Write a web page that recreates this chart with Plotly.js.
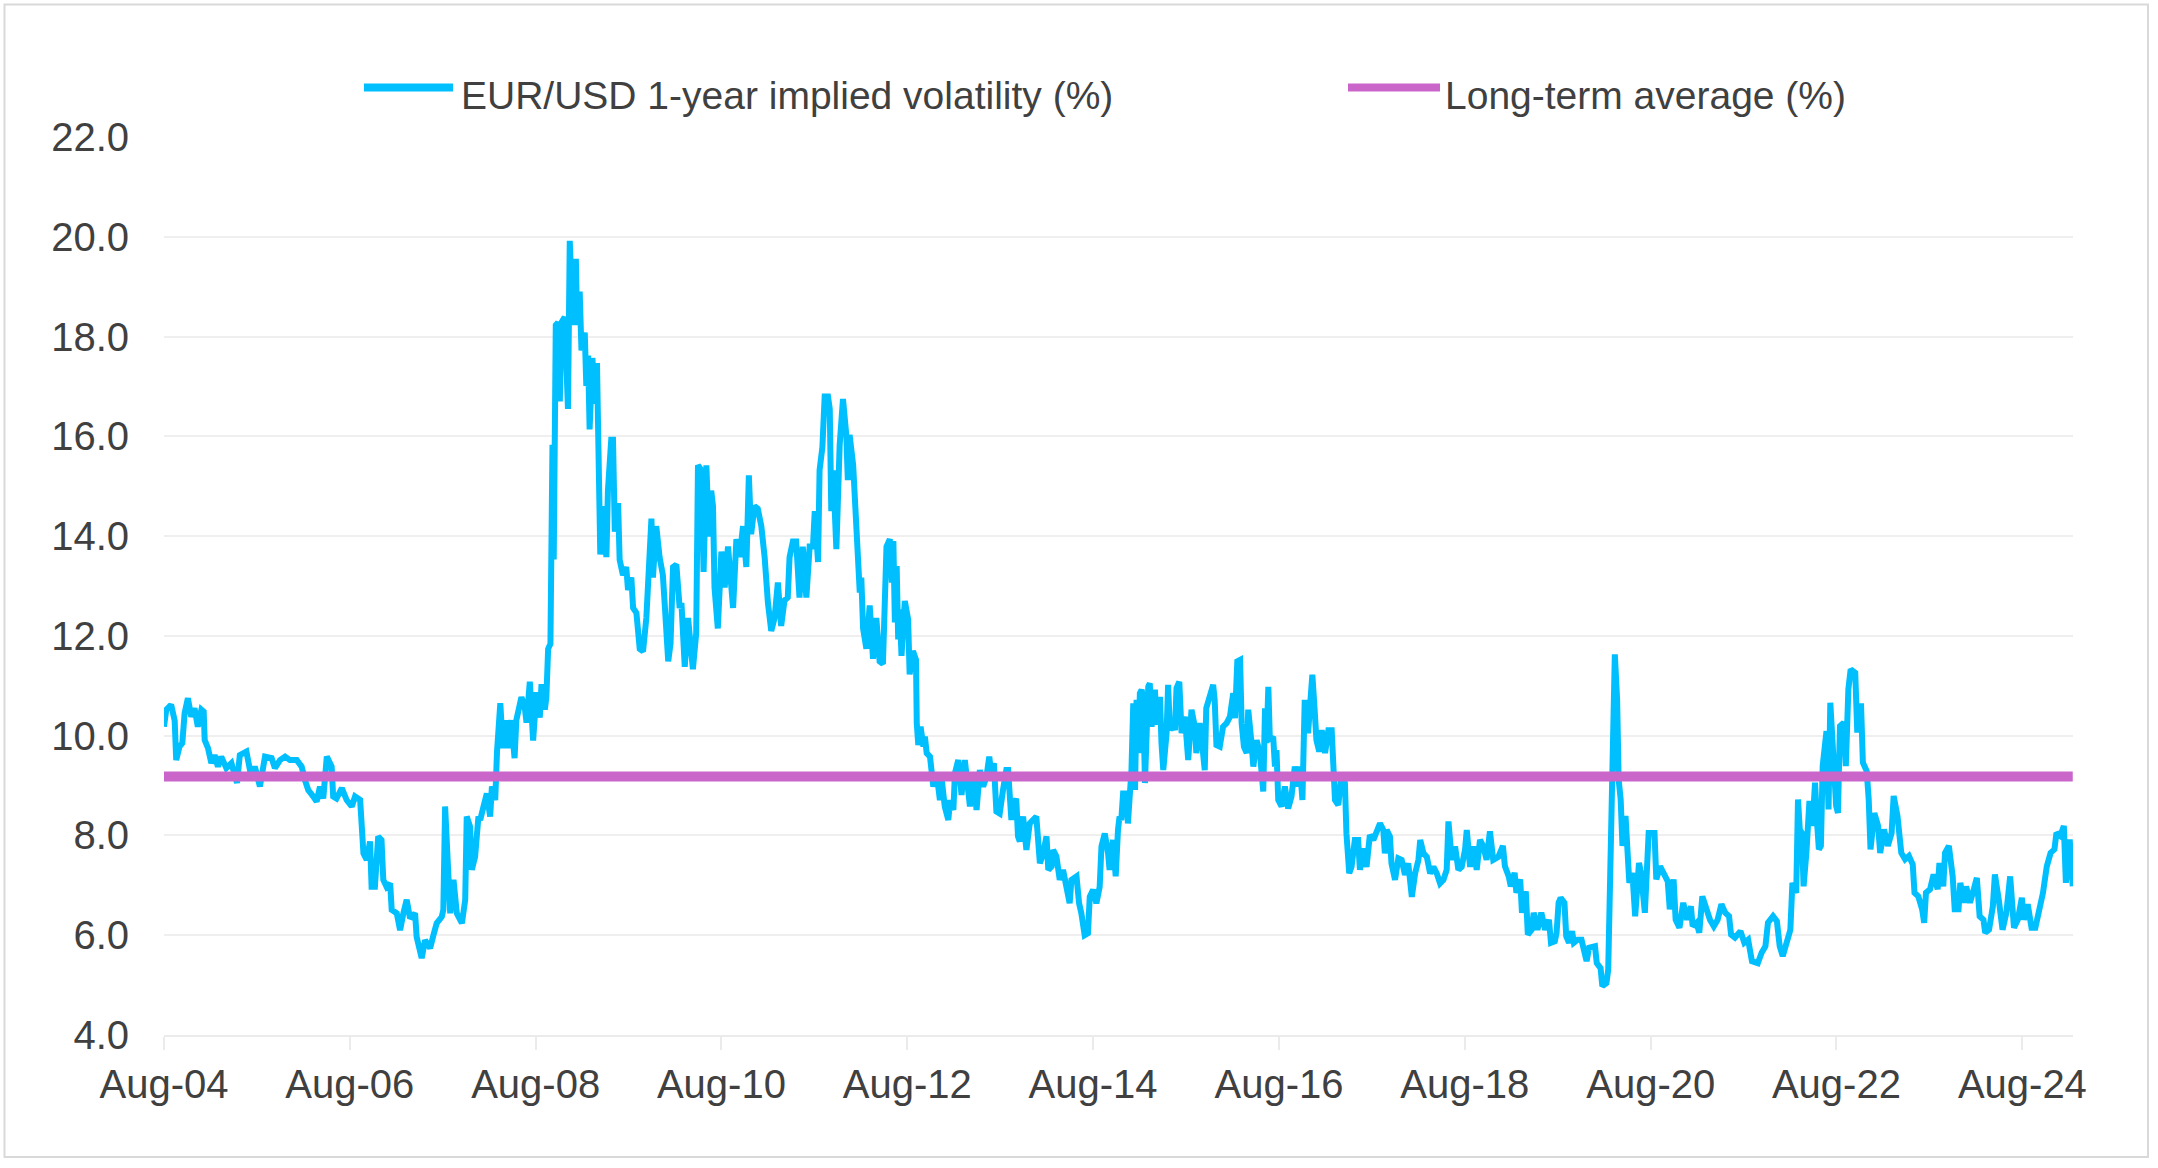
<!DOCTYPE html>
<html>
<head>
<meta charset="utf-8">
<script src="https://cdn.plot.ly/plotly-3.0.1.min.js"></script>
<style>
  html, body { margin: 0; padding: 0; background: #ffffff; }
  #chart { width: 2158px; height: 1168px; }
</style>
</head>
<body>
<div id="chart"></div>
<script>
// ---- Data ----
const seriesName = "EUR/USD 1-year implied volatility (%)";
const avgName = "Long-term average (%)";
const longTermAverage = 9.18;

const dates = [
"2004-08-01","2004-08-10","2004-08-29","2004-09-12","2004-09-18","2004-10-01","2004-10-12","2004-10-21","2004-11-03","2004-11-16",
"2004-11-29","2004-12-12","2004-12-26","2005-01-04","2005-01-08","2005-01-21","2005-02-03","2005-02-16","2005-03-01","2005-03-14",
"2005-04-03","2005-04-23","2005-05-15","2005-05-26","2005-06-21","2005-07-11","2005-07-24","2005-08-13","2005-09-02","2005-09-28",
"2005-10-11","2005-10-31","2005-11-20","2005-12-09","2006-01-05","2006-01-24","2006-02-06","2006-02-19","2006-03-11","2006-03-24",
"2006-04-06","2006-04-19","2006-05-03","2006-05-22","2006-05-28","2006-06-10","2006-07-01","2006-07-20","2006-08-09","2006-08-22",
"2006-09-11","2006-09-17","2006-09-24","2006-10-07","2006-10-20","2006-10-26","2006-11-08","2006-11-21","2006-12-04","2006-12-11",
"2006-12-24","2007-01-07","2007-01-13","2007-02-02","2007-02-15","2007-02-28","2007-03-13","2007-03-26","2007-04-15","2007-04-21",
"2007-05-11","2007-05-24","2007-06-13","2007-06-26","2007-07-09","2007-07-29","2007-08-04","2007-08-11","2007-08-21","2007-08-31",
"2007-09-13","2007-09-26","2007-10-16","2007-10-29","2007-11-04","2007-11-17","2007-11-24","2007-12-07","2007-12-20","2007-12-27",
"2008-01-09","2008-01-22","2008-02-04","2008-02-11","2008-02-24","2008-03-02","2008-03-15","2008-03-25","2008-04-04","2008-04-14",
"2008-04-27","2008-05-04","2008-05-10","2008-05-17","2008-05-30","2008-06-06","2008-06-19","2008-06-26","2008-07-09","2008-07-22",
"2008-08-04","2008-08-17","2008-08-24","2008-09-06","2008-09-12","2008-09-19","2008-09-28","2008-10-02","2008-10-06","2008-10-11",
"2008-10-19","2008-10-28","2008-11-04","2008-11-10","2008-11-23","2008-12-06","2008-12-13","2008-12-19","2008-12-26","2009-01-06",
"2009-01-11","2009-01-21","2009-01-28","2009-02-10","2009-02-16","2009-02-23","2009-03-01","2009-03-12","2009-03-21","2009-03-30",
"2009-04-06","2009-04-12","2009-04-23","2009-05-06","2009-05-12","2009-05-25","2009-06-01","2009-06-08","2009-06-21","2009-06-27",
"2009-07-10","2009-07-23","2009-07-30","2009-08-12","2009-08-19","2009-09-01","2009-09-14","2009-09-27","2009-10-10","2009-10-17",
"2009-10-30","2009-11-05","2009-11-18","2009-12-01","2009-12-14","2009-12-21","2010-01-04","2010-01-13","2010-01-23","2010-02-05",
"2010-02-18","2010-02-25","2010-03-03","2010-03-10","2010-03-23","2010-04-05","2010-04-11","2010-04-24","2010-05-01","2010-05-14",
"2010-05-23","2010-06-03","2010-06-13","2010-06-22","2010-06-29","2010-07-05","2010-07-18","2010-08-01","2010-08-14","2010-08-27",
"2010-09-09","2010-09-16","2010-09-29","2010-10-12","2010-10-25","2010-11-07","2010-11-17","2010-11-26","2010-12-09","2010-12-22",
"2011-01-05","2011-01-18","2011-01-31","2011-02-13","2011-02-26","2011-03-11","2011-03-24","2011-04-06","2011-04-19","2011-04-26",
"2011-05-09","2011-05-22","2011-06-04","2011-06-17","2011-07-01","2011-07-14","2011-07-27","2011-08-03","2011-08-16","2011-08-22",
"2011-09-02","2011-09-11","2011-09-24","2011-10-01","2011-10-07","2011-10-14","2011-10-27","2011-11-09","2011-11-22","2011-12-05",
"2011-12-11","2011-12-18","2012-01-01","2012-01-14","2012-01-27","2012-02-02","2012-02-09","2012-02-22","2012-03-06","2012-03-19",
"2012-04-01","2012-04-14","2012-04-27","2012-05-11","2012-05-24","2012-06-01","2012-06-07","2012-06-13","2012-06-20","2012-06-26",
"2012-07-02","2012-07-09","2012-07-22","2012-08-04","2012-08-10","2012-08-23","2012-09-04","2012-09-07","2012-09-13","2012-09-22",
"2012-10-03","2012-10-09","2012-10-16","2012-10-29","2012-11-04","2012-11-11","2012-11-24","2012-12-07","2012-12-13","2012-12-26",
"2013-01-09","2013-01-16","2013-01-29","2013-02-04","2013-02-17","2013-03-02","2013-03-15","2013-03-28","2013-04-04","2013-04-17",
"2013-04-30","2013-05-13","2013-05-26","2013-06-08","2013-06-19","2013-06-28","2013-07-07","2013-07-17","2013-07-30","2013-08-12",
"2013-08-25","2013-09-01","2013-09-14","2013-09-21","2013-10-03","2013-10-10","2013-10-17","2013-10-30","2013-11-12","2013-11-25",
"2013-12-08","2013-12-21","2014-01-04","2014-01-17","2014-01-30","2014-02-06","2014-02-19","2014-02-25","2014-03-10","2014-03-23",
"2014-04-05","2014-04-18","2014-05-01","2014-05-08","2014-05-28","2014-06-07","2014-06-16","2014-06-29","2014-07-12","2014-07-19",
"2014-08-01","2014-08-14","2014-08-27","2014-09-03","2014-09-16","2014-09-29","2014-10-05","2014-10-18","2014-10-29","2014-11-07",
"2014-11-13","2014-11-20","2014-11-27","2014-12-10","2014-12-16","2014-12-23","2014-12-30","2015-01-06","2015-01-13","2015-01-19",
"2015-01-26","2015-02-01","2015-02-08","2015-02-14","2015-02-21","2015-03-06","2015-03-12","2015-03-19","2015-04-01","2015-04-08",
"2015-04-21","2015-04-27","2015-05-04","2015-05-17","2015-05-23","2015-05-30","2015-06-12","2015-06-19","2015-06-25","2015-07-06",
"2015-07-15","2015-07-28","2015-08-10","2015-08-23","2015-09-05","2015-09-11","2015-09-24","2015-10-01","2015-10-14","2015-10-20",
"2015-11-03","2015-11-16","2015-11-22","2015-11-29","2015-12-12","2015-12-25","2016-01-08","2016-01-21","2016-02-03","2016-02-10",
"2016-02-19","2016-03-01","2016-03-07","2016-03-16","2016-03-27","2016-04-02","2016-04-15","2016-04-22","2016-05-05","2016-05-18",
"2016-05-31","2016-06-07","2016-06-13","2016-06-20","2016-06-26","2016-07-09","2016-07-16","2016-07-22","2016-07-29","2016-08-11",
"2016-08-24","2016-09-06","2016-09-19","2016-10-02","2016-10-15","2016-10-22","2016-11-01","2016-11-10","2016-11-23","2016-11-30",
"2016-12-10","2016-12-19","2016-12-26","2017-01-06","2017-01-16","2017-01-29","2017-02-11","2017-02-24","2017-03-02","2017-03-09",
"2017-03-22","2017-04-04","2017-04-17","2017-04-23","2017-05-04","2017-05-13","2017-05-26","2017-06-08","2017-06-15","2017-06-28",
"2017-07-11","2017-07-24","2017-08-07","2017-08-20","2017-09-02","2017-09-15","2017-09-21","2017-09-28","2017-10-11","2017-10-17",
"2017-10-31","2017-11-06","2017-11-13","2017-11-26","2017-12-09","2017-12-22","2018-01-05","2018-01-18","2018-01-31","2018-02-07",
"2018-02-20","2018-03-05","2018-03-18","2018-03-31","2018-04-13","2018-04-26","2018-05-09","2018-05-22","2018-05-29","2018-06-11",
"2018-06-24","2018-07-07","2018-07-20","2018-08-02","2018-08-09","2018-08-22","2018-09-04","2018-09-17","2018-09-30","2018-10-13",
"2018-10-26","2018-11-08","2018-11-21","2018-12-11","2018-12-29","2019-01-06","2019-01-21","2019-01-29","2019-02-13","2019-02-20",
"2019-03-07","2019-03-14","2019-03-29","2019-04-06","2019-04-21","2019-04-29","2019-05-14","2019-05-29","2019-06-13","2019-06-28",
"2019-07-06","2019-07-21","2019-07-28","2019-08-05","2019-08-13","2019-08-28","2019-09-04","2019-09-15","2019-09-27","2019-10-04",
"2019-10-19","2019-11-03","2019-11-10","2019-11-23","2019-12-03","2019-12-18","2019-12-26","2020-01-02","2020-01-17","2020-01-24",
"2020-02-09","2020-02-16","2020-02-21","2020-03-02","2020-03-13","2020-03-22","2020-03-28","2020-04-05","2020-04-12","2020-04-24",
"2020-05-02","2020-05-09","2020-05-21","2020-06-01","2020-06-16","2020-06-24","2020-07-09","2020-07-24","2020-08-16","2020-08-23",
"2020-09-07","2020-09-22","2020-10-07","2020-10-15","2020-10-30","2020-11-07","2020-11-22","2020-12-07","2020-12-22","2021-01-06",
"2021-01-13","2021-01-28","2021-02-08","2021-02-20","2021-03-07","2021-03-22","2021-04-06","2021-04-21","2021-05-06","2021-05-21",
"2021-06-05","2021-06-13","2021-06-28","2021-07-20","2021-08-04","2021-08-19","2021-09-03","2021-09-26","2021-10-11","2021-10-26",
"2021-11-05","2021-11-25","2021-12-10","2021-12-21","2022-01-02","2022-01-17","2022-02-01","2022-02-09","2022-02-24","2022-03-03",
"2022-03-10","2022-03-18","2022-03-25","2022-04-05","2022-04-17","2022-04-29","2022-05-09","2022-05-17","2022-05-24","2022-06-01",
"2022-06-08","2022-06-23","2022-07-01","2022-07-08","2022-07-16","2022-07-23","2022-07-31","2022-08-07","2022-08-15","2022-08-30",
"2022-09-07","2022-09-17","2022-09-26","2022-10-07","2022-10-14","2022-10-22","2022-10-29","2022-11-06","2022-11-13","2022-11-28",
"2022-12-06","2022-12-13","2022-12-28","2023-01-12","2023-01-20","2023-02-04","2023-02-19","2023-03-06","2023-03-14","2023-03-29",
"2023-04-13","2023-04-28","2023-05-13","2023-05-28","2023-06-04","2023-06-19","2023-07-04","2023-07-12","2023-07-19","2023-08-04",
"2023-08-18","2023-09-03","2023-09-10","2023-09-25","2023-10-02","2023-10-17","2023-11-01","2023-11-09","2023-11-24","2023-12-01",
"2023-12-16","2023-12-24","2024-01-08","2024-01-23","2024-02-04","2024-02-15","2024-03-01","2024-03-08","2024-03-23","2024-04-07",
"2024-04-15","2024-04-30","2024-05-15","2024-05-30","2024-06-14","2024-06-29","2024-07-14","2024-07-30","2024-08-07","2024-08-22",
"2024-09-06","2024-09-21","2024-10-06","2024-10-21","2024-11-05","2024-11-20","2024-12-05","2024-12-13","2024-12-28","2025-01-11",
"2025-01-19","2025-02-03","2025-02-15"
];

const vol = [
10.18,10.52,10.62,10.30,9.51,9.78,9.85,10.45,10.75,10.38,
10.55,10.18,10.52,10.48,9.91,9.75,9.45,9.61,9.38,9.58,
9.35,9.45,9.05,9.61,9.68,9.15,9.38,8.98,9.58,9.55,
9.35,9.51,9.58,9.51,9.51,9.38,9.11,8.91,8.78,8.68,
8.98,8.74,9.58,9.38,8.78,8.74,8.95,8.71,8.58,8.78,
8.71,8.18,7.64,7.51,7.88,6.97,6.97,7.98,7.91,7.11,
6.97,7.04,6.51,6.44,6.10,6.44,6.71,6.34,6.44,5.97,
5.54,5.90,5.74,6.00,6.24,6.37,6.51,8.58,7.31,6.44,
7.11,6.44,6.24,6.71,8.38,8.18,7.31,7.58,8.38,8.31,
8.58,8.84,8.38,8.98,8.71,9.68,10.65,9.75,10.31,9.75,
10.31,9.90,9.55,10.31,10.67,10.77,10.57,10.26,11.08,9.90,
10.87,10.36,11.03,10.52,10.77,11.74,11.84,13.58,15.83,13.53,
18.23,18.28,16.70,18.28,18.39,16.55,19.92,19.10,18.23,19.56,
18.23,18.90,17.72,18.08,17.01,17.62,16.14,17.57,16.65,17.47,
14.50,13.63,14.60,13.58,14.91,15.93,15.93,14.09,14.66,13.53,
13.22,13.38,12.92,13.17,12.56,12.46,11.74,11.69,12.36,13.02,
14.35,13.17,14.20,13.58,13.22,12.66,11.49,11.84,13.38,13.43,
12.56,12.66,11.74,11.38,12.36,11.38,11.33,12.05,15.42,15.32,
13.28,15.42,13.99,14.91,14.60,12.97,12.15,13.69,12.97,13.79,
12.77,12.56,13.94,13.58,14.20,13.38,15.22,14.04,14.60,14.55,
14.20,13.58,12.66,12.10,12.36,13.07,12.20,12.71,12.77,13.58,
13.89,13.89,12.77,13.79,12.77,13.79,13.79,14.50,13.48,15.32,
15.78,16.80,16.80,16.55,14.50,15.32,13.74,15.83,16.75,16.03,
15.12,16.03,15.42,13.79,12.87,13.17,12.15,11.74,12.61,11.54,
12.36,11.49,11.44,13.79,13.94,13.07,13.90,12.27,13.40,11.93,
12.53,11.60,12.70,12.33,11.23,11.70,11.52,10.25,9.81,10.18,
9.78,9.98,9.65,9.58,9.31,8.98,9.25,8.71,9.18,8.58,
8.31,8.71,8.51,9.25,9.51,8.81,9.51,8.71,8.58,9.25,
8.51,9.31,8.98,9.18,9.58,9.18,9.45,8.48,8.44,8.91,
9.31,9.31,8.31,8.58,8.74,7.98,7.88,8.38,7.71,8.24,
8.31,8.38,7.44,7.64,7.98,7.31,7.38,7.71,7.58,7.11,
7.31,6.97,6.64,7.11,7.18,6.64,6.44,6.00,6.04,6.77,
6.91,6.64,6.97,7.78,8.04,7.64,7.31,7.91,7.18,8.11,
8.38,8.31,8.84,8.84,8.24,8.78,9.31,10.65,8.91,10.72,
9.65,10.85,10.92,10.72,9.05,10.98,11.05,10.18,10.92,10.22,
10.78,9.85,9.31,10.05,11.02,10.11,10.25,10.11,10.95,11.08,
10.05,10.38,9.51,10.52,10.18,9.65,10.25,9.98,9.31,10.55,
10.78,11.02,10.72,9.81,9.78,10.18,10.25,10.38,10.85,10.35,
11.49,11.52,10.25,9.78,9.65,10.52,9.85,9.38,9.91,9.65,
8.88,10.55,9.85,10.98,9.91,9.98,9.38,9.71,8.71,8.58,
8.98,8.54,8.78,9.38,8.98,9.38,8.71,10.72,10.05,10.78,
11.22,10.52,9.91,9.68,10.11,9.65,10.11,10.11,9.45,8.71,
8.61,9.25,9.05,8.04,7.24,7.37,7.91,7.91,7.31,7.74,
7.37,8.01,7.91,8.11,8.24,8.11,7.64,8.11,7.98,7.44,
7.11,7.31,7.54,7.51,7.21,7.44,6.77,7.24,7.51,7.91,
7.64,7.57,7.24,7.37,7.24,7.04,7.11,7.31,8.28,7.51,
7.78,7.31,7.37,7.71,8.11,7.37,7.78,7.31,7.91,7.78,
7.51,8.08,7.51,7.57,7.79,7.38,7.18,6.98,7.25,6.85,
7.12,6.45,6.88,6.01,6.11,6.45,6.11,6.45,6.11,6.31,
5.85,5.88,6.05,6.65,6.75,6.65,5.98,5.85,6.08,5.85,
5.91,5.91,5.71,5.48,5.75,5.78,5.78,5.44,5.34,4.98,
5.04,5.31,6.52,9.59,11.63,10.73,9.12,8.72,7.79,8.39,
7.65,7.05,7.25,6.38,7.45,7.25,6.45,8.05,8.05,7.12,
7.38,7.25,7.08,6.52,7.12,6.31,6.15,6.65,6.31,6.58,
6.18,6.25,6.05,6.78,6.52,6.31,6.18,6.31,6.62,6.45,
6.38,6.01,5.95,6.08,5.85,5.91,5.48,5.44,5.65,5.78,
6.25,6.38,6.28,5.78,5.58,5.85,6.11,7.05,6.85,8.72,
8.12,8.05,6.98,7.65,8.69,8.19,9.06,8.25,7.72,7.79,
9.39,10.09,8.52,10.66,9.59,9.32,8.59,8.45,10.19,10.26,
9.39,10.93,11.33,11.30,11.26,10.06,10.59,10.59,9.46,9.29,
8.72,7.72,8.45,8.19,7.65,8.12,7.79,8.05,8.79,8.39,
7.65,7.52,7.59,7.42,6.85,6.78,6.52,6.25,6.85,6.92,
7.22,6.92,7.45,6.98,7.65,7.79,7.18,6.52,6.52,7.05,
6.65,6.98,6.65,6.92,7.15,6.38,6.31,6.05,6.11,6.58,
7.22,6.72,6.11,6.45,7.18,6.15,6.31,6.75,6.31,6.62,
6.15,6.15,6.52,6.85,7.38,7.65,7.72,8.05,7.99,8.19,
7.05,7.92,6.98
];

const xRange = ["2004-08-01", "2025-02-16"];
const yRange = [4, 22];

// ---- Styling ----
const blue = "#00BFFF";
const purple = "#CA66CA";
const textColor = "#404040";
const gridColor = "#EFEFEF";
const fontFamily = "'Liberation Sans', Arial, Helvetica, sans-serif";

const traces = [
  {
    type: "scatter", mode: "lines", name: seriesName,
    x: dates, y: vol,
    line: { color: blue, width: 6 },
    hoverinfo: "skip"
  },
  {
    type: "scatter", mode: "lines", name: avgName,
    x: [dates[0], dates[dates.length - 1]],
    y: [longTermAverage, longTermAverage],
    line: { color: purple, width: 10 },
    hoverinfo: "skip"
  }
];

// plot area in pixels: left 164, right 2073, top 137, bottom 1035
const L = 164, R = 2073, T = 137, B = 1035;
const px = v => (v - L) / (R - L);
const py = v => (B - v) / (B - T);

const layout = {
  width: 2158, height: 1168,
  margin: { l: L, r: 2158 - R, t: T, b: 1168 - B, pad: 0 },
  paper_bgcolor: "#ffffff", plot_bgcolor: "#ffffff",
  showlegend: false,
  font: { family: fontFamily, color: textColor, size: 40 },
  xaxis: {
    type: "date", range: xRange,
    tick0: "2004-08-01", dtick: "M24", tickformat: "%b-%y",
    showgrid: false, zeroline: false,
    showline: true, linecolor: "#EBEBEB", linewidth: 2,
    ticks: "outside", ticklen: 13, tickwidth: 2, tickcolor: "#EBEBEB",
    tickfont: { family: fontFamily, size: 40, color: textColor },
    fixedrange: true
  },
  yaxis: {
    range: yRange, tick0: 4, dtick: 2, tickformat: ".1f",
    showgrid: true, gridcolor: gridColor, gridwidth: 2,
    zeroline: false, showline: false, ticks: "",
    ticklabelstandoff: 34,
    tickfont: { family: fontFamily, size: 40, color: textColor },
    fixedrange: true
  },
  shapes: [
    { type: "rect", xref: "paper", yref: "paper",
      x0: px(4.5), x1: px(2148), y0: py(1157), y1: py(4.5),
      line: { color: "#D9D9D9", width: 2 }, fillcolor: "rgba(0,0,0,0)", layer: "below" },
    { type: "line", xref: "paper", yref: "paper",
      x0: px(364), x1: px(453), y0: py(87.5), y1: py(87.5),
      line: { color: blue, width: 8 } },
    { type: "line", xref: "paper", yref: "paper",
      x0: px(1348), x1: px(1440), y0: py(87.5), y1: py(87.5),
      line: { color: purple, width: 8 } }
  ],
  annotations: [
    { xref: "paper", yref: "paper", x: px(459), y: py(96),
      xanchor: "left", yanchor: "middle", showarrow: false,
      text: seriesName, font: { family: fontFamily, size: 39, color: textColor } },
    { xref: "paper", yref: "paper", x: px(1443), y: py(96),
      xanchor: "left", yanchor: "middle", showarrow: false,
      text: avgName, font: { family: fontFamily, size: 39, color: textColor } }
  ]
};

Plotly.newPlot("chart", traces, layout, { displayModeBar: false, staticPlot: true, responsive: false });
</script>
</body>
</html>
